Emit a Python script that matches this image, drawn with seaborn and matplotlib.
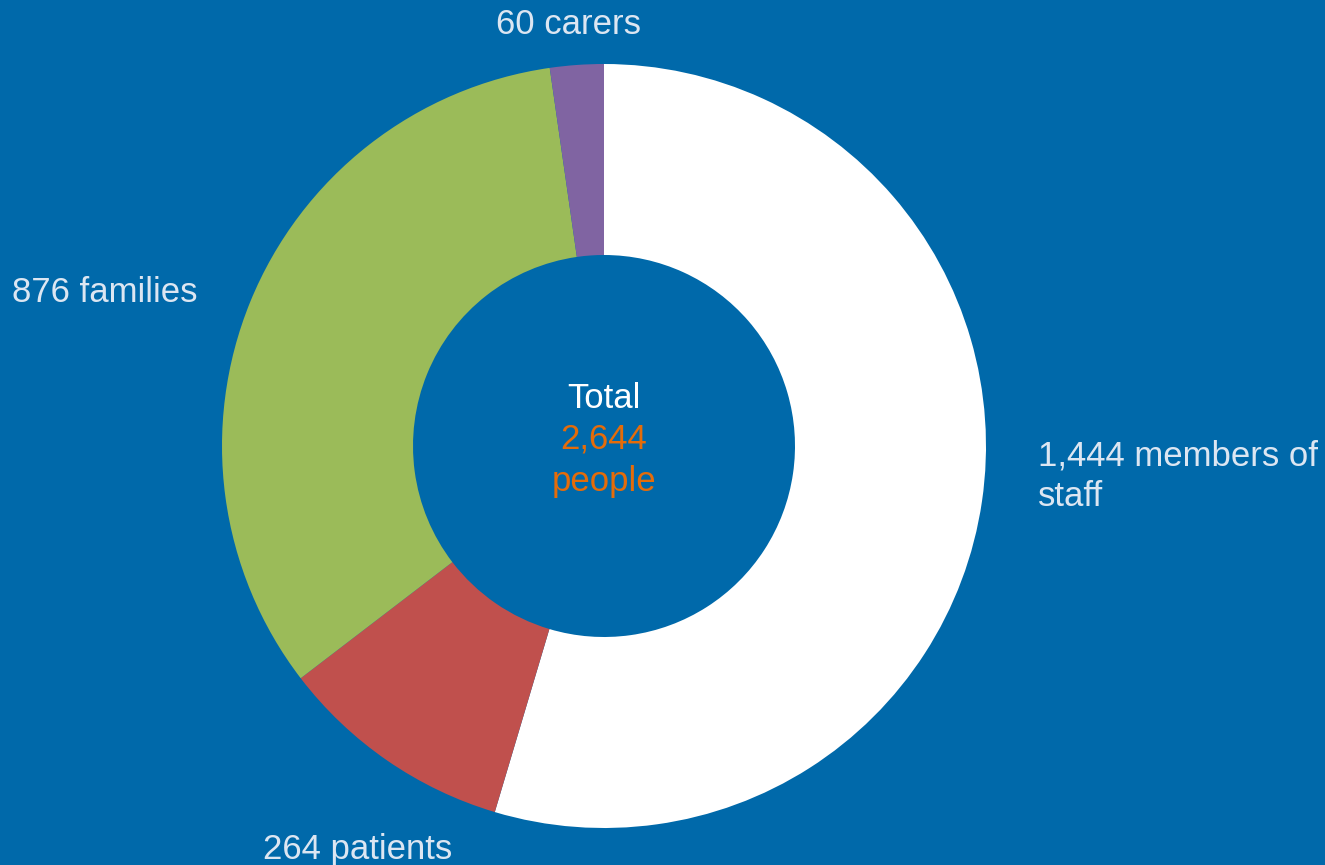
import matplotlib
matplotlib.use("Agg")
import matplotlib.pyplot as plt
import seaborn as sns

# Survey participants by group
groups = ["members of\nstaff", "patients", "families", "carers"]
counts = [1444, 264, 876, 60]
total_people = 2644

sns.set_theme(style="white")
plt.rcParams["font.family"] = ["Liberation Sans", "DejaVu Sans"]

bg = "#0069AA"
slice_colors = sns.color_palette(["#FFFFFF", "#C0504D", "#9BBB59", "#8064A2"])
label_color = "#DCE6F2"
accent = "#E46C0A"

W, H = 1325, 865
fig = plt.figure(figsize=(W / 100, H / 100), dpi=100, facecolor=bg)
ax = fig.add_axes([0, 0, 1, 1])
ax.set_facecolor(bg)
ax.axis("off")

cx, cy, r = 604, H - 446, 382
ax.pie(counts, colors=slice_colors, startangle=90, counterclock=False,
       center=(cx, cy), radius=r,
       wedgeprops=dict(width=r * 0.5, linewidth=0))
ax.set_xlim(0, W)
ax.set_ylim(0, H)
ax.set_aspect("equal")

fs = 25
staff_lines = f"{counts[0]:,} {groups[0]}".split("\n")
ax.text(1038, H - 456, staff_lines[0], color=label_color, fontsize=fs,
        ha="left", va="center")
ax.text(1038, H - 496, staff_lines[1], color=label_color, fontsize=fs,
        ha="left", va="center")
ax.text(358, H - 850, f"{counts[1]} {groups[1]}", color=label_color,
        fontsize=fs, ha="center", va="center")
ax.text(12, H - 293, f"{counts[2]} {groups[2]}", color=label_color,
        fontsize=fs, ha="left", va="center")
ax.text(568, H - 25, f"{counts[3]} {groups[3]}", color=label_color,
        fontsize=fs, ha="center", va="center")

ax.text(cx, H - 398, "Total", color="white", fontsize=fs, ha="center", va="center")
ax.text(cx, H - 439, f"{total_people:,}", color=accent, fontsize=fs, ha="center", va="center")
ax.text(cx, H - 481, "people", color=accent, fontsize=fs, ha="center", va="center")

fig.savefig("out.png", dpi=100, facecolor=bg)
